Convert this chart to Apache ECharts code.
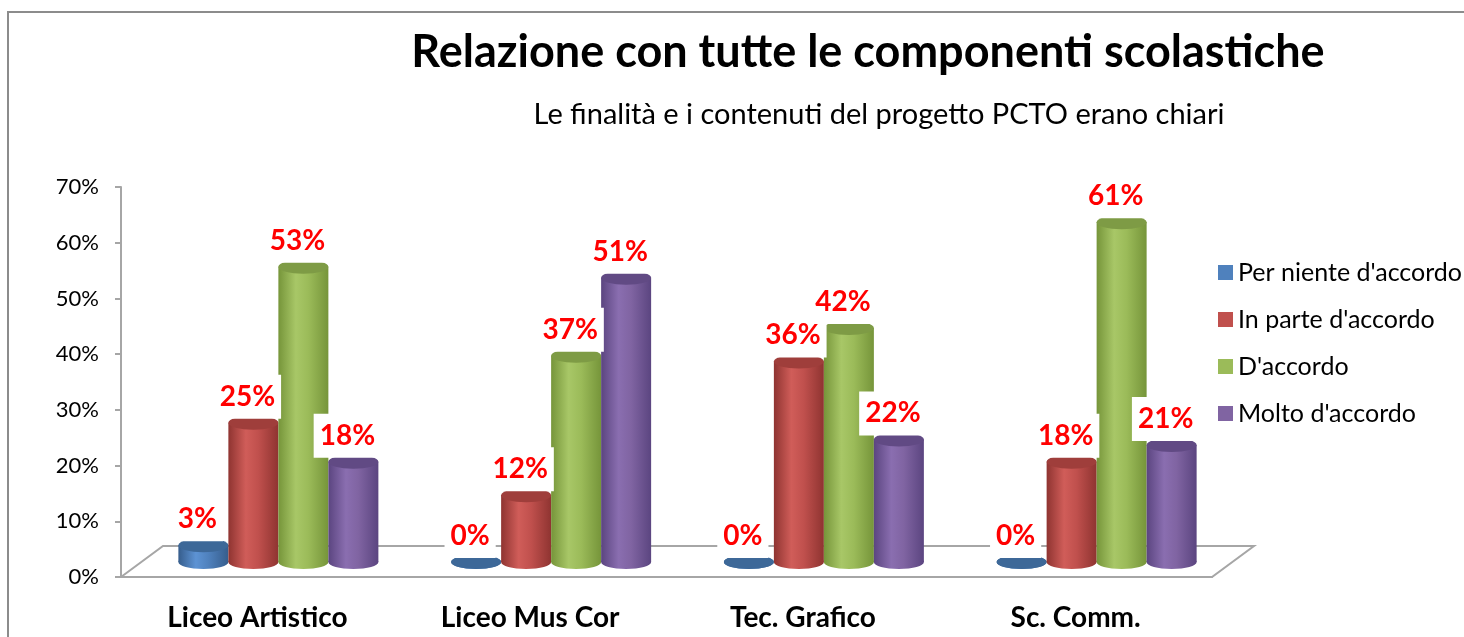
<!DOCTYPE html>
<html>
<head>
<meta charset="utf-8">
<script src="https://cdn.jsdelivr.net/npm/echarts@6/dist/echarts.min.js"></script>
<style>
  html, body { margin: 0; padding: 0; background: #fff; }
  #chart { width: 1464px; height: 637px; }
</style>
</head>
<body>
<div id="chart"></div>
<script>
// dati
const categories = ['Liceo Artistico', 'Liceo Mus Cor', 'Tec. Grafico', 'Sc. Comm.'];
const seriesNames = ['Per niente d\'accordo', 'In parte d\'accordo', 'D\'accordo', 'Molto d\'accordo'];
const perNiente = [3, 0, 0, 0];
const inParte = [25, 12, 36, 18];
const dAccordo = [53, 37, 42, 61];
const molto = [18, 51, 22, 21];
const yMin = 0, yMax = 70, yStep = 10;

const values = [perNiente, inParte, dAccordo, molto];
const FONT = 'Lato, "Open Sans", sans-serif';

// colori cilindri: [base, scuro, chiaro, top]
const palette = [
  ['#4F81BD', '#365d8c', '#5d93d4', '#3d6898'],
  ['#C0504D', '#8f3431', '#d05d59', '#9f3e3b'],
  ['#9BBB59', '#76953a', '#a8c767', '#7e9b45'],
  ['#8064A2', '#5b4580', '#8a6eb0', '#614a84']
];

const chart = echarts.init(document.getElementById('chart'));

const barW = 50, ry = 7;

function cylinder(s) {
  return function (params, api) {
    const i = api.value(0), v = api.value(1);
    const base = api.coord([i, 0]);
    const top = api.coord([i, v]);
    const cx = base[0] + (s - 1.5) * barW;
    const x0 = cx - barW / 2;
    const c = palette[s];
    const grad = new echarts.graphic.LinearGradient(0, 0, 1, 0, [
      { offset: 0, color: c[1] },
      { offset: 0.35, color: c[2] },
      { offset: 0.6, color: c[0] },
      { offset: 1, color: c[1] }
    ]);
    const children = [
      { type: 'ellipse', shape: { cx: cx, cy: base[1], rx: barW / 2, ry: ry }, style: { fill: grad } },
      { type: 'rect', shape: { x: x0, y: top[1], width: barW, height: base[1] - top[1] }, style: { fill: grad } },
      { type: 'ellipse', shape: { cx: cx, cy: top[1], rx: barW / 2, ry: ry }, style: { fill: c[3] } },
      {
        type: 'text', z2: 100,
        x: cx - 6, y: top[1] - 26,
        style: {
          text: v + '%', fill: '#ff0000', font: 'bold 28px ' + FONT,
          align: 'center', verticalAlign: 'middle',
          backgroundColor: '#fff', padding: [8, 6]
        }
      }
    ];
    return { type: 'group', children: children };
  };
}

const series = [
  {
    // pavimento 3D
    type: 'custom', xAxisIndex: 0, yAxisIndex: 0, z: 1, silent: true,
    data: [[0, 0]],
    renderItem: function (params, api) {
      const cs = params.coordSys;
      const dx = 42, dy = 31;
      const yb = cs.y + cs.height;
      return {
        type: 'polygon',
        shape: { points: [[cs.x, yb], [cs.x + dx, yb - dy], [cs.x + cs.width + dx, yb - dy], [cs.x + cs.width, yb]] },
        style: { fill: '#fff', stroke: '#a6a6a6', lineWidth: 2 }
      };
    }
  }
];
values.forEach(function (arr, s) {
  series.push({
    name: seriesNames[s], type: 'custom', xAxisIndex: 1, yAxisIndex: 1, z: 3,
    itemStyle: { color: palette[s][0] },
    data: arr.map(function (v, i) { return [i, v]; }),
    renderItem: cylinder(s)
  });
});

const option = {
  backgroundColor: '#fff',
  animation: false,
  graphic: [
    { type: 'rect', shape: { x: 8, y: 12, width: 1600, height: 800 }, style: { fill: 'none', stroke: '#8c8c8c', lineWidth: 2 }, z: -1 },
    { type: 'text', x: 868, y: 52, style: { text: 'Relazione con tutte le componenti scolastiche', font: 'bold 45px ' + FONT, fill: '#000', align: 'center', verticalAlign: 'middle' } },
    { type: 'text', x: 879, y: 115, style: { text: 'Le finalità e i contenuti del progetto PCTO erano chiari', font: '29px ' + FONT, fill: '#000', align: 'center', verticalAlign: 'middle' } }
  ],
  legend: {
    orient: 'vertical', left: 1213, top: 255,
    itemWidth: 15, itemHeight: 15, itemGap: 22, icon: 'rect',
    data: seriesNames,
    textStyle: { fontSize: 25, fontFamily: FONT, color: '#000' }
  },
  grid: [
    { left: 121, right: 252, top: 187, bottom: 60 },
    { left: 142, right: 231, top: 172, bottom: 75 }
  ],
  xAxis: [
    {
      type: 'category', gridIndex: 0, data: categories,
      axisLine: { lineStyle: { color: '#a6a6a6', width: 2 } },
      axisTick: { length: 12, lineStyle: { color: '#a6a6a6', width: 2 } },
      axisLabel: { fontSize: 28, fontWeight: 'bold', fontFamily: FONT, color: '#000', margin: 27 }
    },
    { type: 'category', gridIndex: 1, data: categories, show: false }
  ],
  yAxis: [
    {
      type: 'value', gridIndex: 0, min: yMin, max: yMax, interval: yStep,
      axisLine: { show: true, lineStyle: { color: '#a6a6a6', width: 2 } },
      axisTick: { show: true, length: 6, lineStyle: { color: '#a6a6a6', width: 2 } },
      splitLine: { show: false },
      axisLabel: { formatter: '{value}%', fontSize: 22, fontFamily: FONT, color: '#000', margin: 22 }
    },
    { type: 'value', gridIndex: 1, min: yMin, max: yMax, interval: yStep, show: false, splitLine: { show: false } }
  ],
  series: series
};

chart.setOption(option);
</script>
</body>
</html>
